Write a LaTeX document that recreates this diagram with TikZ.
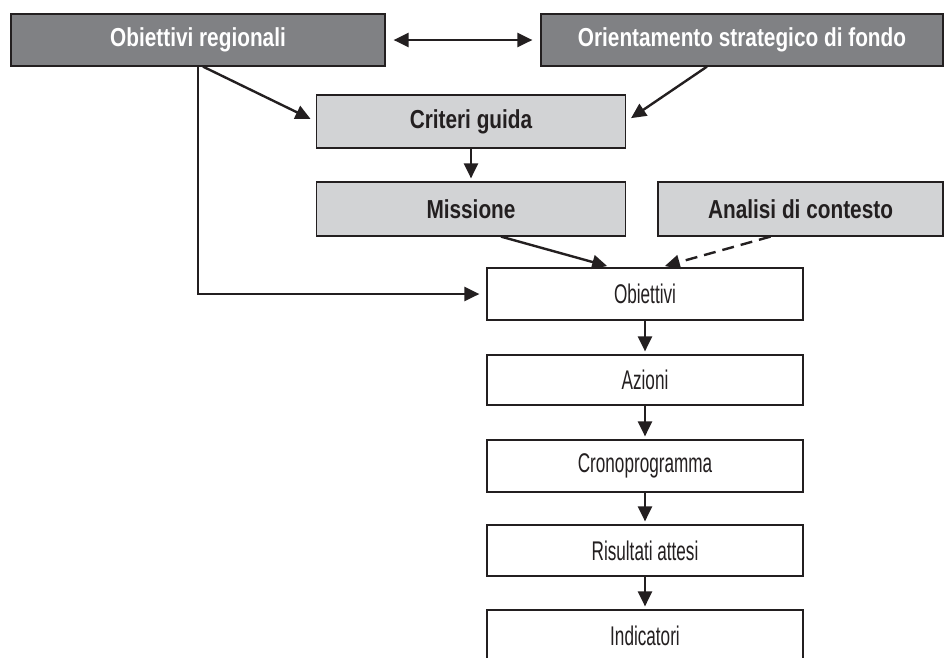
\documentclass[tikz,border=0pt]{standalone}
\usepackage{fontspec}
\setmainfont{Liberation Sans}
\newfontfamily\headfont{Liberation Sans}[FakeStretch=0.80]
\newfontfamily\bodyfont{Liberation Sans}[FakeStretch=0.635]
\usetikzlibrary{arrows.meta}
\definecolor{darkfill}{HTML}{808184}
\definecolor{lightfill}{HTML}{D2D3D5}
\definecolor{ink}{HTML}{231F20}
\tikzset{
  box/.style={draw=ink, line width=1.2pt, minimum height=52pt, inner sep=0pt, anchor=center},
  darkbox/.style={box, fill=darkfill, text=white, font=\headfont\bfseries\fontsize{26}{30}\selectfont},
  lightbox/.style={box, fill=lightfill, text=ink, font=\headfont\bfseries\fontsize{26}{30}\selectfont},
  whitebox/.style={box, fill=white, text=ink, font=\bodyfont\fontsize{27}{30}\selectfont, minimum width=316pt},
  link/.style={draw=ink, line width=2.4pt, -{Triangle[length=15pt,width=14pt]}},
  twoway/.style={link, {Triangle[length=15pt,width=14pt]}-{Triangle[length=15pt,width=14pt]}},
}
\begin{document}
\begin{tikzpicture}[x=1pt, y=-1pt]
  \useasboundingbox (0,0) rectangle (951,657);

  % top level
  \node[darkbox, minimum width=374pt] (oreg) at (198,40) {Obiettivi regionali};
  \node[darkbox, minimum width=402pt] (orient) at (742,40) {Orientamento strategico di fondo};

  % guidance and context
  \node[lightbox, minimum width=309pt, minimum height=53pt] (crit) at (471,121.5) {Criteri guida};
  \node[lightbox, minimum width=309pt, minimum height=54pt] (miss) at (471,209) {Missione};
  \node[lightbox, minimum width=285pt, minimum height=54pt] (anal) at (800.5,209) {Analisi di contesto};

  % operational chain
  \node[whitebox] (obj) at (645,294) {Obiettivi};
  \node[whitebox, minimum height=50pt] (azi) at (645,380) {Azioni};
  \node[whitebox] (crono) at (645,466) {Cronoprogramma};
  \node[whitebox, minimum height=51pt] (ris) at (645,550.5) {Risultati attesi};
  \node[whitebox] (ind) at (645,636) {Indicatori};

  % connectors
  \draw[twoway, shorten <=8pt, shorten >=8pt] (oreg.east) -- (orient.west);
  \draw[link, shorten >=6pt] ([xshift=5pt]oreg.south) -- (crit.west);
  \draw[link, shorten >=6pt] ([xshift=-35pt]orient.south) -- (crit.east);
  \draw[link, shorten >=3pt] (crit.south) -- (miss.north);
  \draw[link, shorten >=5pt] ([xshift=30pt]miss.south) -- ([xshift=-33pt]obj.north);
  \draw[link, dashed, dash pattern=on 12pt off 7pt, shorten >=5pt] ([xshift=-30pt]anal.south) -- ([xshift=15pt]obj.north);
  \draw[link, shorten >=7pt] (oreg.south) |- (obj.west);
  \draw[link, shorten >=3pt] (obj.south) -- (azi.north);
  \draw[link, shorten >=3pt] (azi.south) -- (crono.north);
  \draw[link, shorten >=3pt] (crono.south) -- (ris.north);
  \draw[link, shorten >=3pt] (ris.south) -- (ind.north);
\end{tikzpicture}
\end{document}
